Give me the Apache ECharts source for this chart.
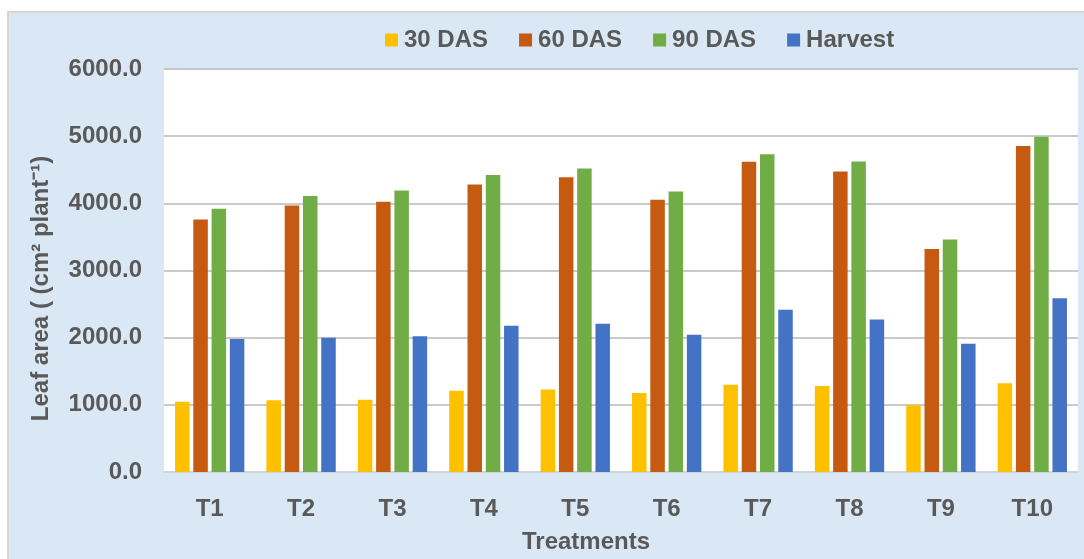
<!DOCTYPE html>
<html>
<head>
<meta charset="utf-8">
<script src="https://cdn.jsdelivr.net/npm/echarts@6/dist/echarts.min.js"></script>
<style>
  html, body { margin: 0; padding: 0; background: #fff; }
  #leafAreaChartID { width: 1084px; height: 559px; }
</style>
</head>
<body>
<div id="leafAreaChartID"></div>
<script>
var leafAreaChart = echarts.init(document.getElementById('leafAreaChartID'));

// treatments on the x axis
var treatments = ['T1', 'T2', 'T3', 'T4', 'T5', 'T6', 'T7', 'T8', 'T9', 'T10'];

// leaf area (cm2 plant-1)
var das30 = [1047, 1067, 1077, 1210, 1230, 1175, 1299, 1279, 993, 1323];
var das60 = [3759, 3966, 4025, 4280, 4387, 4054, 4618, 4475, 3319, 4853];
var das90 = [3921, 4108, 4192, 4423, 4520, 4176, 4730, 4623, 3461, 4990];
var harvest = [1980, 2000, 2020, 2178, 2207, 2044, 2415, 2272, 1911, 2588];

var seriesNames = ['30 DAS', '60 DAS', '90 DAS', 'Harvest'];
var seriesColors = ['#FFC000', '#C55A11', '#70AD47', '#4472C4'];
var seriesData = [das30, das60, das90, harvest];

var textColor = '#595959';
var fontFamily = '"Liberation Sans", Arial, sans-serif';

var seriesList = [];
echarts.util.each(seriesNames, function (name, i) {
    seriesList.push({
        type: 'bar',
        name: name,
        data: seriesData[i],
        barWidth: 14.5,
        barGap: '26%',
        itemStyle: { color: seriesColors[i] }
    });
});

var option_leafArea = {
    backgroundColor: '#fff',
    textStyle: { fontFamily: fontFamily },
    graphic: [{
        type: 'rect',
        z: -10,
        silent: true,
        shape: { x: 8, y: 12, width: 1090, height: 560 },
        style: { fill: '#dae7f4', stroke: '#d6d6d6', lineWidth: 2 }
    }],
    legend: {
        left: 380,
        top: 23,
        itemWidth: 13,
        itemHeight: 13,
        itemGap: 31,
        icon: 'rect',
        textStyle: { color: textColor, fontSize: 24, fontWeight: 'bold', padding: [0, 0, 0, 1] }
    },
    grid: {
        left: 164,
        right: 6,
        top: 69,
        bottom: 83,
        show: true,
        backgroundColor: '#fff',
        borderWidth: 0
    },
    xAxis: {
        type: 'category',
        data: treatments,
        name: 'Treatments',
        nameLocation: 'middle',
        nameGap: 58,
        nameTextStyle: { color: textColor, fontSize: 24, fontWeight: 'bold', padding: [0, 70, 0, 0] },
        axisLine: { lineStyle: { color: '#d4d4d4', width: 2 } },
        axisTick: { show: false },
        axisLabel: { color: textColor, fontSize: 24, fontWeight: 'bold', margin: 25 }
    },
    yAxis: {
        type: 'value',
        min: 0,
        max: 6000,
        interval: 1000,
        name: 'Leaf area ( (cm² plant⁻¹)',
        nameLocation: 'middle',
        nameGap: 111,
        nameTextStyle: { color: textColor, fontSize: 24, fontWeight: 'bold', padding: [0, 36, 0, 0] },
        axisLine: { show: false },
        axisTick: { show: false },
        axisLabel: {
            color: textColor,
            fontSize: 24,
            fontWeight: 'bold',
            margin: 22,
            formatter: function (v) { return v.toFixed(1); }
        },
        splitLine: { lineStyle: { color: '#b8b8b8', width: 1.5 } }
    },
    series: seriesList
};

leafAreaChart.setOption(option_leafArea);
</script>
</body>
</html>
